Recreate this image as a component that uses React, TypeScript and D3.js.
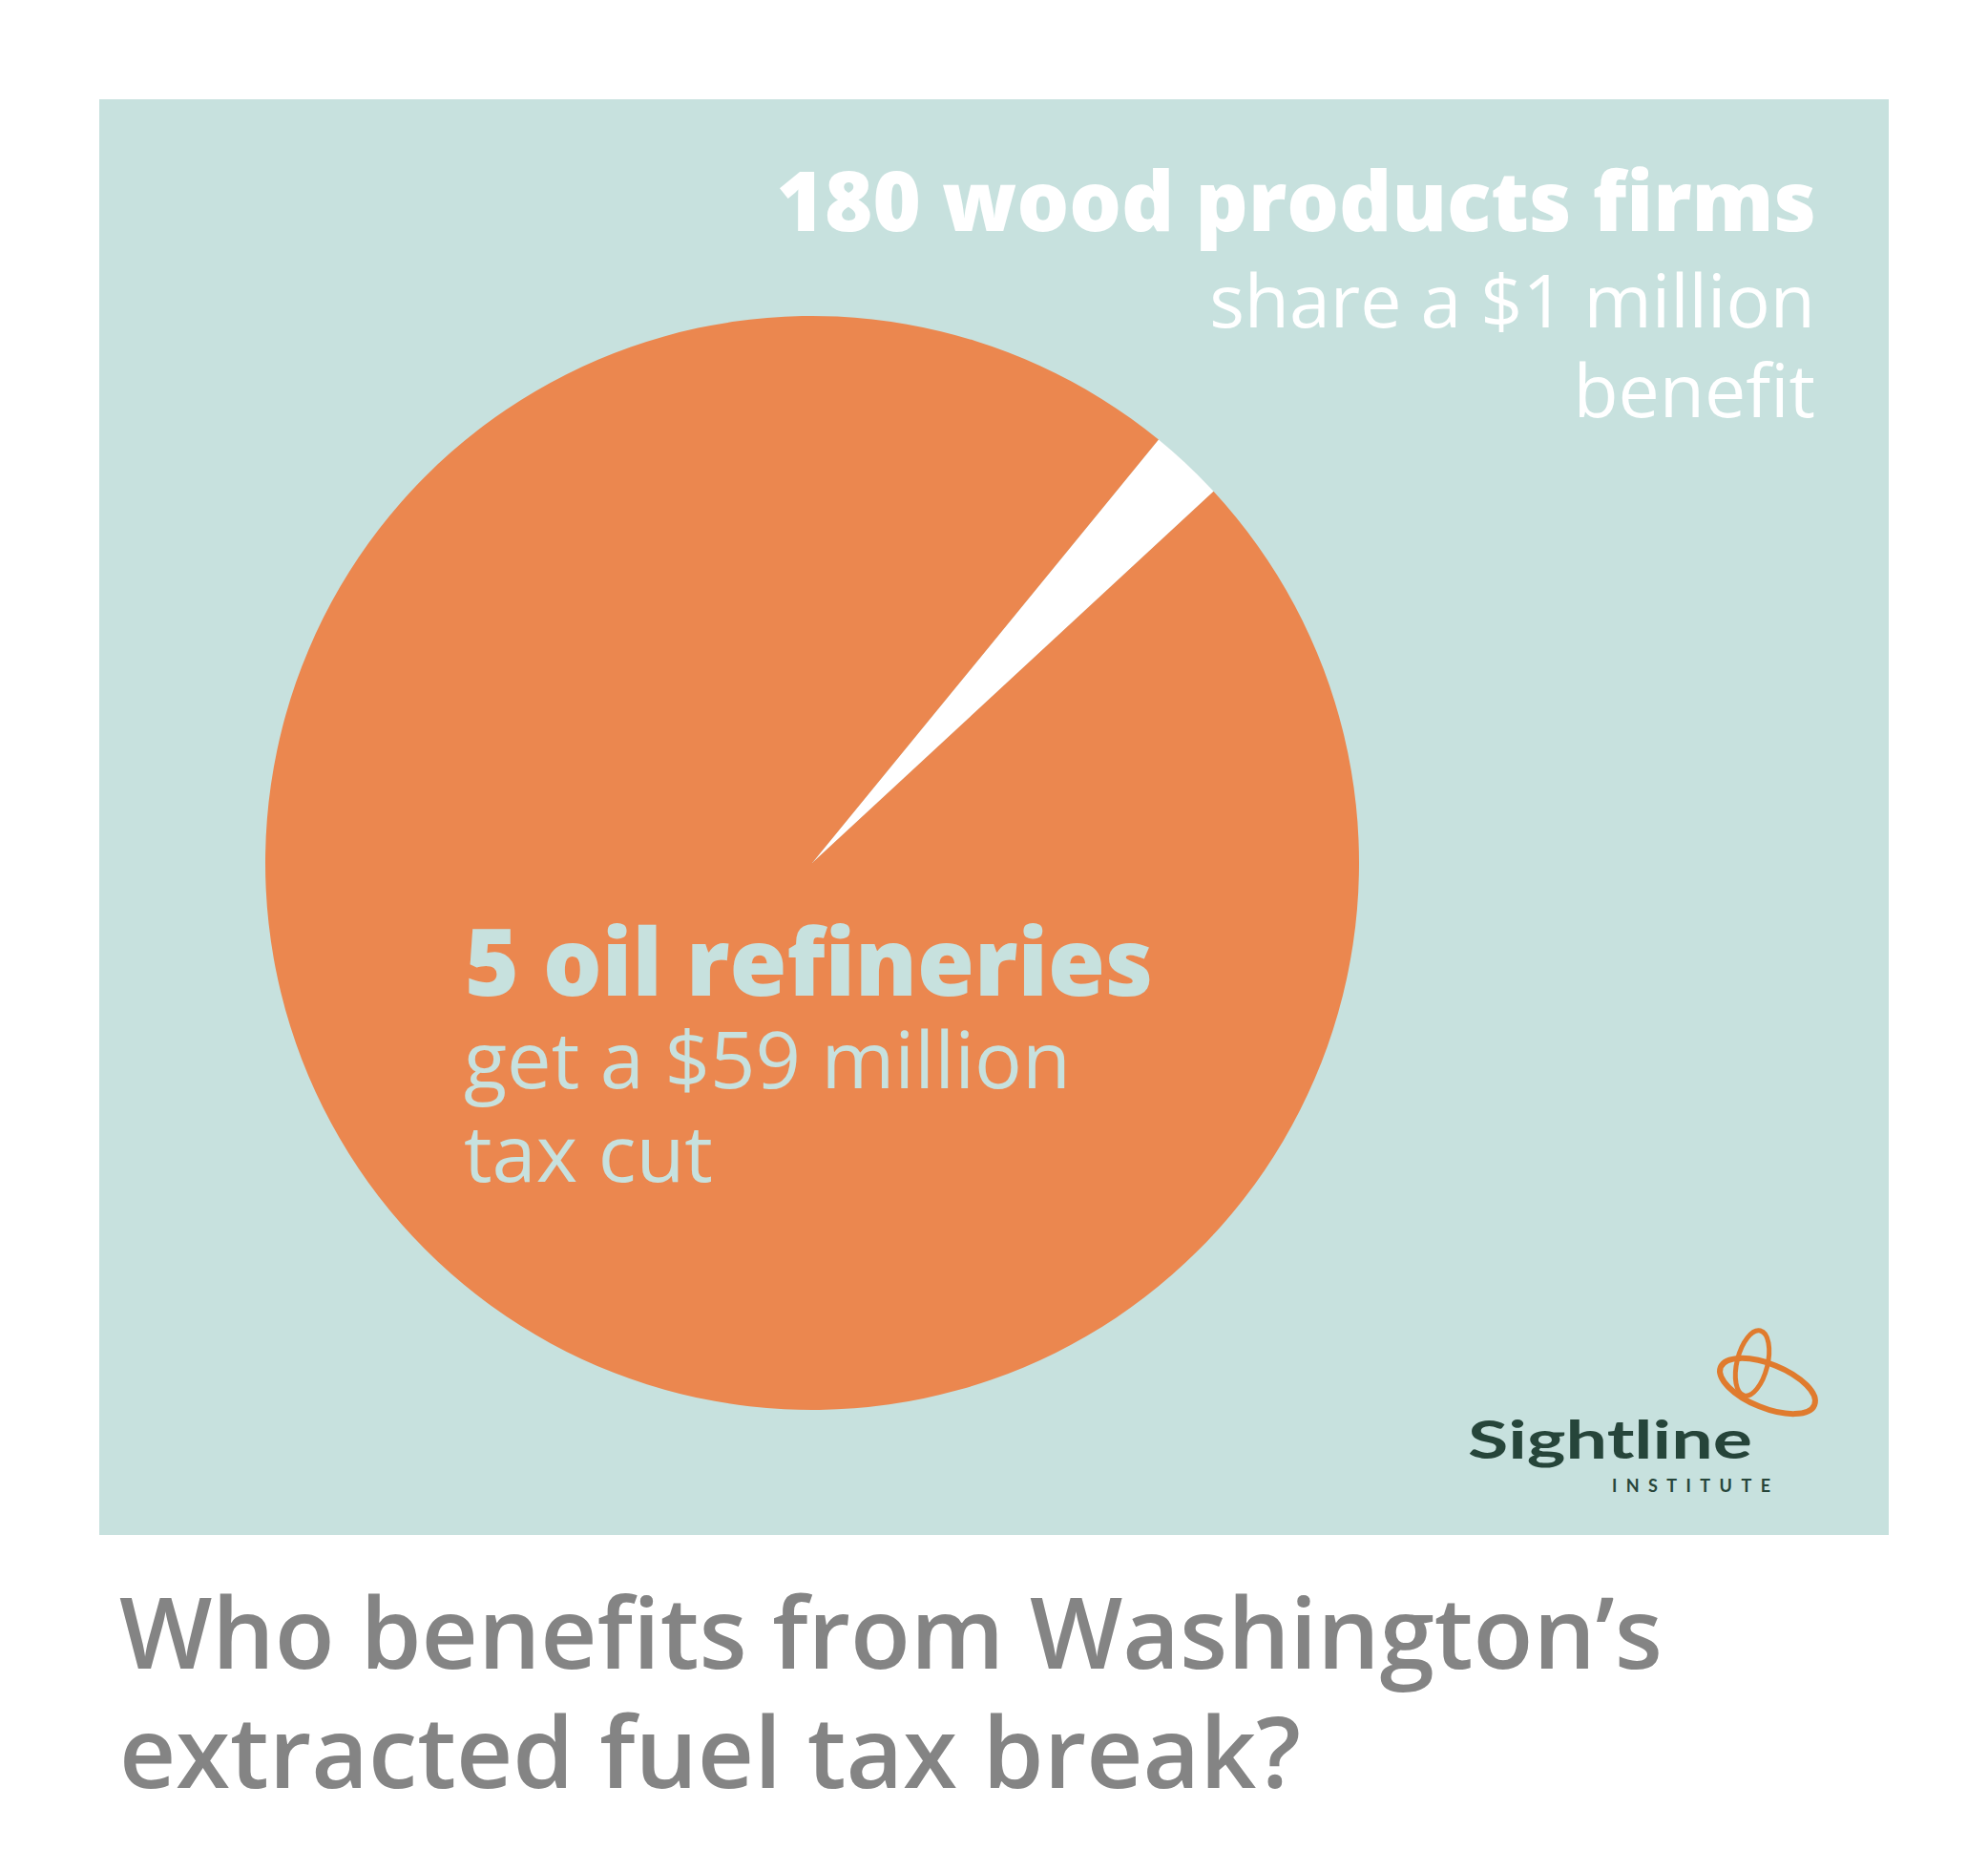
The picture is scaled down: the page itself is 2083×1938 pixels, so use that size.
import React from 'react';
import * as d3 from 'd3';

// slice shares (wood wedge is ~8 degrees)
const categories = ['180 wood products firms', '5 oil refineries'];
const shares = [2.2, 97.8];
const sliceColors = ['#ffffff', '#eb874f'];

const woodLines = ['share a $1 million', 'benefit'];
const oilLines = ['get a $59 million', 'tax cut'];
const titleLines = ['Who benefits from Washington\u2019s', 'extracted fuel tax break?'];

const W = 2083;
const H = 1938;
const panel = { x: 104, y: 104, w: 1875, h: 1504 };
const center = { x: 851, y: 904 };
const radius = 573;
const startDeg = 39.3;

const font = '"Open Sans", "Noto Sans", sans-serif';
const logoFont = 'Lato, "Open Sans", sans-serif';

const App: React.FC = () => {
    const pie = d3.pie<number>()
        .sort(null)
        .value(d => d)
        .startAngle((startDeg * Math.PI) / 180)
        .endAngle((startDeg * Math.PI) / 180 + 2 * Math.PI);
    const arc = d3.arc<d3.PieArcDatum<number>>()
        .innerRadius(0)
        .outerRadius(radius);
    const slices = pie(shares);

    return (
        <svg width={W} height={H} style={{ position: 'absolute', left: 0, top: 0, background: '#fff' }}>
            <rect x={panel.x} y={panel.y} width={panel.w} height={panel.h} fill="#c7e1de" />

            <g transform={`translate(${center.x},${center.y})`}>
                {slices.map((s, i) => (
                    <path key={categories[i]} d={arc(s) || ''} fill={sliceColors[i]} />
                ))}
            </g>

            {/* wood products label */}
            <text textAnchor="end" fill="#fff" fontFamily={font}>
                <tspan x={1903} y={242} fontWeight={800} fontSize={86}>{categories[0]}</tspan>
                {woodLines.map((t, i) => (
                    <tspan key={t} x={1902} y={343 + i * 94} fontWeight={500} fontSize={77}>{t}</tspan>
                ))}
            </text>

            {/* refineries label */}
            <text fill="#c7e1de" fontFamily={font}>
                <tspan x={487} y={1043} fontWeight={800} fontSize={97}>{categories[1]}</tspan>
                {oilLines.map((t, i) => (
                    <tspan key={t} x={486} y={1140 + i * 98} fontWeight={500} fontSize={83}>{t}</tspan>
                ))}
            </text>

            {/* logo */}
            <g fill="none" stroke="#e07b2e">
                <ellipse cx={1836} cy={1428} rx={16} ry={35} transform="rotate(14 1836 1428)" strokeWidth={5} />
                <ellipse cx={1852} cy={1452} rx={53} ry={23} transform="rotate(22 1852 1452)" strokeWidth={6} />
            </g>
            <text x={1538} y={1528} fill="#26453a" fontFamily={logoFont}
                fontWeight={700} fontSize={56} textLength={298} lengthAdjust="spacingAndGlyphs">Sightline</text>
            <text x={1689} y={1563} fill="#26453a" fontFamily={logoFont}
                fontWeight={700} fontSize={18} textLength={166} lengthAdjust="spacing">INSTITUTE</text>

            {/* title */}
            <text fill="#848484" fontFamily={font} fontWeight={600} fontSize={103}>
                {titleLines.map((t, i) => (
                    <tspan key={t} x={125} y={1748 + i * 125}>{t}</tspan>
                ))}
            </text>
        </svg>
    );
};

export default App;
